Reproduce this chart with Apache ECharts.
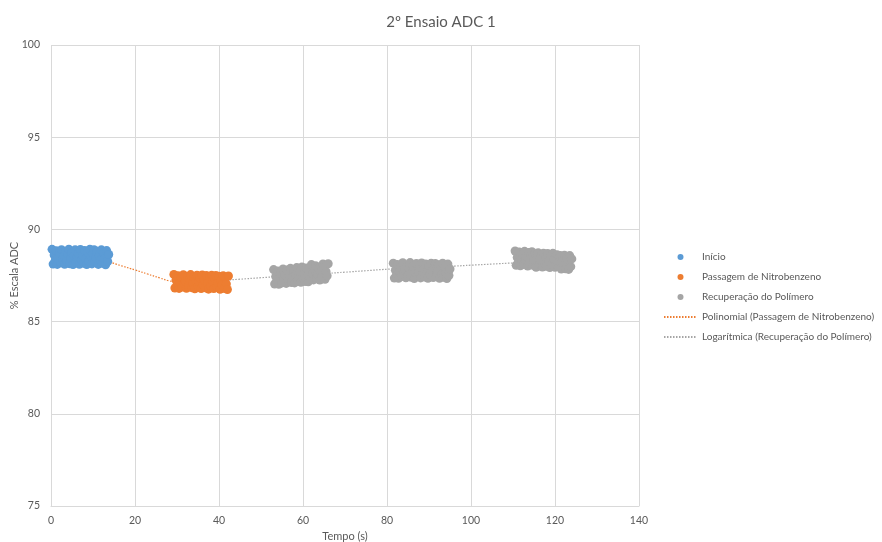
<!DOCTYPE html>
<html>
<head>
<meta charset="utf-8">
<script src="https://cdn.jsdelivr.net/npm/echarts@6/dist/echarts.min.js"></script>
<style>
  html, body { margin: 0; padding: 0; background: #fff; }
  #chart { width: 882px; height: 542px; }
</style>
</head>
<body>
<div id="chart"></div>
<script>
// ADC readings, sampled every 0.25 s, for each phase of the run
const sampleStep = 0.25;

const inicioStart = 0.25;
const inicio = [
  88.92, 88.12, 88.61, 88.30, 88.84, 88.10, 88.47, 88.72, 88.19, 88.90, 88.38, 88.55, 88.11, 88.80, 88.27, 88.66, 88.93, 88.14, 88.43, 88.75,
  88.09, 88.58, 88.89, 88.22, 88.50, 88.70, 88.11, 88.91, 88.35, 88.62, 88.17, 88.86, 88.41, 88.09, 88.77, 88.29, 88.92, 88.53, 88.13, 88.68,
  88.90, 88.24, 88.46, 88.81, 88.10, 88.57, 88.33, 88.89, 88.16, 88.71, 88.40, 88.08, 88.85, 88.26, 88.64
];

const passagemStart = 29.25;
const passagem = [
  87.56, 86.82, 87.25, 86.98, 87.48, 86.80, 87.12, 87.39, 86.88, 87.54, 87.05, 87.20, 86.81, 87.44, 86.93, 87.31, 87.55, 86.84, 87.09, 87.41,
  86.78, 87.23, 87.52, 86.90, 87.16, 87.36, 86.79, 87.53, 87.01, 87.28, 86.83, 87.50, 87.07, 86.76, 87.42, 86.95, 87.51, 87.18, 86.79, 87.33,
  87.50, 86.89, 87.11, 87.46, 86.75, 87.22, 86.99, 87.49, 86.80, 87.35, 87.04, 86.74, 87.47
];

const recuperacao1Start = 53;
const recuperacao1 = [
  87.82, 87.04, 87.45, 87.20, 87.74, 87.02, 87.36, 87.62, 87.10, 87.85, 87.28, 87.52, 87.07, 87.80, 87.22, 87.58, 87.89, 87.12,
  87.42, 87.75, 87.10, 87.55, 87.93, 87.20, 87.47, 87.70, 87.13, 87.96, 87.34, 87.63, 87.17, 87.91, 87.44, 87.16, 87.85, 87.31,
  88.09, 87.60, 87.26, 87.79, 88.03, 87.33, 87.55, 87.92, 87.25, 87.68, 87.41, 88.13, 87.95, 87.29, 87.71, 87.48, 88.14
];

const recuperacao2Start = 81.5;
const recuperacao2 = [
  88.17, 87.36, 87.78, 87.52, 88.10, 87.35, 87.68, 87.95, 87.44, 88.19, 87.60, 87.83, 87.38, 88.05, 87.49, 87.90, 88.20, 87.40, 87.65, 88.00,
  87.34, 87.80, 88.15, 87.47, 87.72, 87.97, 87.37, 88.18, 87.57, 87.87, 87.42, 88.12, 87.63, 87.35, 88.02, 87.54, 88.16, 87.75, 87.39, 87.92,
  88.15, 87.46, 87.70, 88.07, 87.35, 87.82, 87.58, 88.17, 87.40, 87.94, 87.62, 87.34, 88.12, 87.50, 87.85
];

const recuperacao3Start = 110.5;
const recuperacao3 = [
  88.83, 88.05, 88.48, 88.22, 88.78, 88.03, 88.38, 88.65, 88.10, 88.81, 88.30, 88.55, 88.01, 88.75, 88.18, 88.58, 88.79, 88.05, 88.34, 88.68,
  87.95, 88.45, 88.73, 88.08, 88.36, 88.60, 87.96, 88.71, 88.20, 88.50, 88.00, 88.69, 88.27, 87.93, 88.62, 88.12, 88.70, 88.40, 87.95, 88.53,
  88.63, 87.97, 88.25, 88.58, 87.85, 88.33, 88.06, 88.60, 87.86, 88.45, 88.15, 87.83, 88.58, 87.98, 88.40
];

// Trend lines
const polinomialX = [14, 17, 20, 23, 26, 28, 31, 34, 37, 40, 42.5];
const polinomialY = [88.23, 88.01, 87.80, 87.58, 87.36, 87.22, 87.08, 87.00, 86.98, 87.00, 87.05];

const logaritmicaX = [42.5, 45, 50, 55, 60, 66, 70, 75, 80, 85, 90, 96, 100, 105, 110, 115, 124];
const logaritmicaY = [87.26, 87.30, 87.38, 87.46, 87.53, 87.62, 87.68, 87.76, 87.84, 87.90, 87.95, 88.01, 88.06, 88.12, 88.18, 88.22, 88.30];

// Axis ticks
const xTicks = { min: 0, max: 140, step: 20 };
const yTicks = { min: 75, max: 100, step: 5 };

const names = {
  inicio: 'Início',
  passagem: 'Passagem de Nitrobenzeno',
  recuperacao: 'Recuperação do Polímero',
  polinomial: 'Polinomial (Passagem de Nitrobenzeno)',
  logaritmica: 'Logarítmica (Recuperação do Polímero)'
};

function sampled(start, values) {
  return values.map((v, i) => [start + i * sampleStep, v]);
}
function paired(xs, ys) {
  return xs.map((x, i) => [x, ys[i]]);
}

const textColor = '#595959';
const font = 'Lato, "Open Sans", sans-serif';
const dotSize = 9;

const chart = echarts.init(document.getElementById('chart'), null, { renderer: 'canvas' });
chart.setOption({
  animation: false,
  backgroundColor: '#fff',
  title: {
    text: '2º Ensaio ADC 1',
    left: 'center',
    top: 10,
    textStyle: { color: textColor, fontSize: 15, fontWeight: 'normal', fontFamily: font }
  },
  grid: { left: 51, right: 243, top: 45, bottom: 36, containLabel: false, outerBoundsMode: 'none' },
  xAxis: {
    type: 'value',
    min: xTicks.min, max: xTicks.max, interval: xTicks.step,
    name: 'Tempo (s)', nameLocation: 'middle', nameGap: 25, nameMoveOverlap: false,
    nameTextStyle: { color: textColor, fontSize: 11, fontFamily: font },
    axisLine: { show: true, lineStyle: { color: '#d9d9d9' } },
    axisTick: { show: false },
    axisLabel: { color: textColor, fontSize: 10.5, margin: 9, fontFamily: font },
    splitLine: { show: true, lineStyle: { color: '#d9d9d9' } }
  },
  yAxis: {
    type: 'value',
    min: yTicks.min, max: yTicks.max, interval: yTicks.step,
    name: '% Escala ADC', nameLocation: 'middle', nameGap: 31, nameMoveOverlap: false,
    nameTextStyle: { color: textColor, fontSize: 11, fontFamily: font },
    axisLine: { show: false },
    axisTick: { show: false },
    axisLabel: { color: textColor, fontSize: 10.5, margin: 11, fontFamily: font },
    splitLine: { show: true, lineStyle: { color: '#d9d9d9' } }
  },
  legend: {
    orient: 'vertical',
    left: 658,
    top: 246,
    itemWidth: 33,
    itemHeight: 6,
    itemGap: 8,
    textStyle: { color: textColor, fontSize: 10, fontFamily: font, lineHeight: 12 },
    data: [
      { name: names.inicio, icon: 'circle' },
      { name: names.passagem, icon: 'circle' },
      { name: names.recuperacao, icon: 'circle' },
      { name: names.polinomial, itemStyle: { opacity: 0 } },
      { name: names.logaritmica, itemStyle: { opacity: 0 } }
    ]
  },
  series: [
    {
      name: names.polinomial, type: 'line', z: 1,
      data: paired(polinomialX, polinomialY),
      smooth: true, symbol: 'none', showSymbol: false,
      lineStyle: { color: '#ed7d31', width: 1.2, type: [1.5, 1.5] },
      itemStyle: { color: '#ed7d31' }
    },
    {
      name: names.logaritmica, type: 'line', z: 1,
      data: paired(logaritmicaX, logaritmicaY),
      smooth: true, symbol: 'none', showSymbol: false,
      lineStyle: { color: '#a5a5a5', width: 1.2, type: [1.5, 1.5] },
      itemStyle: { color: '#a5a5a5' }
    },
    {
      name: names.inicio, type: 'scatter', z: 2,
      symbolSize: dotSize,
      itemStyle: { color: '#5b9bd5', opacity: 1 },
      data: sampled(inicioStart, inicio)
    },
    {
      name: names.passagem, type: 'scatter', z: 2,
      symbolSize: dotSize,
      itemStyle: { color: '#ed7d31', opacity: 1 },
      data: sampled(passagemStart, passagem)
    },
    {
      name: names.recuperacao, type: 'scatter', z: 2,
      symbolSize: dotSize,
      itemStyle: { color: '#a5a5a5', opacity: 1 },
      data: sampled(recuperacao1Start, recuperacao1)
        .concat(sampled(recuperacao2Start, recuperacao2))
        .concat(sampled(recuperacao3Start, recuperacao3))
    }
  ]
});
</script>
</body>
</html>
